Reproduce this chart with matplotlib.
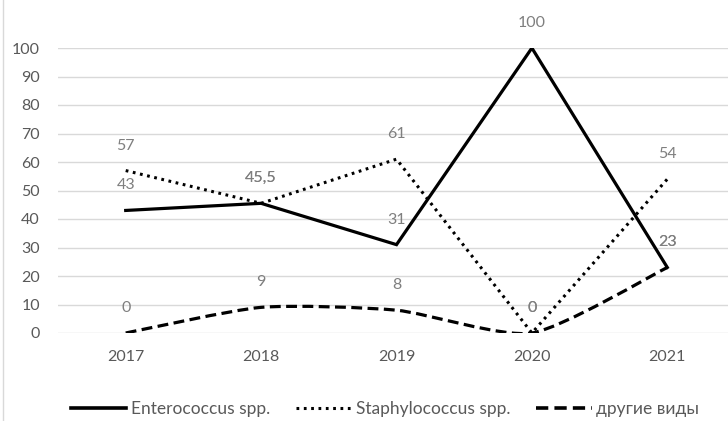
import numpy as np
import matplotlib
matplotlib.use("Agg")
import matplotlib.pyplot as plt
from matplotlib.path import Path
from matplotlib.patches import PathPatch
from matplotlib.lines import Line2D

plt.rcParams['font.family'] = ['Lato', 'DejaVu Sans']

years = ['2017', '2018', '2019', '2020', '2021']
enterococcus = [43, 45.5, 31, 100, 23]
staphylococcus = [57, 45.5, 61, 0, 54]
other_species = [0, 9, 8, 0, 23]

label_grey = '#7f7f7f'
tick_grey = '#595959'
dotted = (0, (0.9, 1.5))
dashed = (0, (3.4, 1.7))


def smooth_path(xs, ys, k=9.0):
    # bezier segments through the points, like a "smoothed line" in a spreadsheet
    pts = np.column_stack([xs, ys]).astype(float)
    n = len(pts)
    verts = [pts[0]]
    codes = [Path.MOVETO]
    for i in range(n - 1):
        p_prev = pts[i - 1] if i > 0 else pts[i]
        p_next = pts[i + 2] if i + 2 < n else pts[i + 1]
        c1 = pts[i] + (pts[i + 1] - p_prev) / k
        c2 = pts[i + 1] - (p_next - pts[i]) / k
        verts += [c1, c2, pts[i + 1]]
        codes += [Path.CURVE4] * 3
    return Path(verts, codes)


fig = plt.figure(figsize=(7.28, 4.21), dpi=100)
ax = fig.add_axes([58 / 728, 1 - 333 / 421, 677 / 728, 285 / 421])

x = np.arange(len(years))

ax.plot(x, enterococcus, color='black', lw=2.3, solid_joinstyle='miter',
        label='Enterococcus spp.', zorder=3)
ax.plot(x, staphylococcus, color='black', lw=2.2, linestyle=dotted,
        dash_capstyle='butt', label='Staphylococcus spp.', zorder=3)
patch = PathPatch(smooth_path(x, other_species), facecolor='none', edgecolor='black',
                  lw=2.3, linestyle=dashed, zorder=3)
ax.add_patch(patch)

for series in (enterococcus, staphylococcus, other_species):
    for xi, v in zip(x, series):
        txt = ('%g' % v).replace('.', ',')
        ax.annotate(txt, (xi, v), xytext=(0, 18), textcoords='offset points',
                    ha='center', va='center', fontsize=11.5, color=label_grey)

ax.set_xlim(-0.5, len(years) - 0.5)
ax.set_ylim(0, 100)
ax.set_yticks(range(0, 101, 10))
ax.set_xticks(x)
ax.set_xticklabels(years)
ax.tick_params(length=0, labelsize=11.5, labelcolor=tick_grey)
ax.tick_params(axis='x', pad=12)
ax.tick_params(axis='y', pad=13)
ax.grid(axis='y', color='#d9d9d9', lw=1)
ax.set_axisbelow(True)
for s in ax.spines.values():
    s.set_visible(False)

handles = [
    Line2D([], [], color='black', lw=2.6),
    Line2D([], [], color='black', lw=2.2, linestyle=dotted),
    Line2D([], [], color='black', lw=2.6, linestyle=dashed),
]
fig.legend(handles, ['Enterococcus spp.', 'Staphylococcus spp.', 'другие виды'],
           loc='center', bbox_to_anchor=(385 / 728, 1 - 409 / 421), ncol=3,
           frameon=False, fontsize=12.5, handlelength=3.2, handletextpad=0.25,
           columnspacing=1.5, labelcolor=tick_grey)

fig.add_artist(Line2D([2.5 / 728, 2.5 / 728], [0, 1], color='#d9d9d9', lw=1,
                      transform=fig.transFigure))

fig.savefig('out.png', dpi=100, facecolor='white')
